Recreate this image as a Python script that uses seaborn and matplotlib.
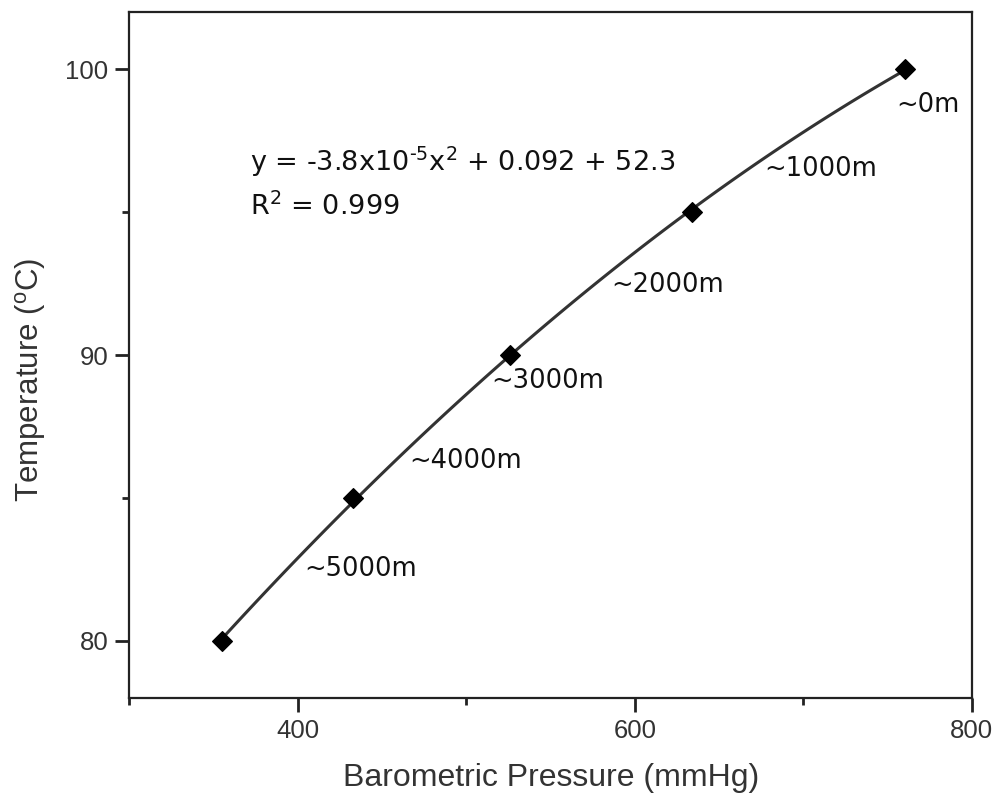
import matplotlib

matplotlib.use("Agg")
import matplotlib.pyplot as plt
import numpy as np
import pandas as pd
import seaborn as sns
from matplotlib.ticker import MultipleLocator

# data
pressure = [355, 433, 526, 634, 760]          # mmHg
temperature = [80, 85, 90, 95, 100]           # deg C
altitude = ["~5000m", "~4000m", "~3000m", "~2000m", "~1000m", "~0m"]
# label anchors (data coords) for the altitude annotations
label_x = [404, 466, 515, 586, 677, 755]
label_y = [82.5, 86.3, 89.1, 92.45, 96.5, 98.75]
equation = r"y = -3.8x10$^{\text{-5}}$x$^{2}$ + 0.092 + 52.3"
r_squared = "R$^{2}$ = 0.999"

sns.set_theme(style="ticks")
plt.rcParams["font.family"] = ["Liberation Sans", "DejaVu Sans"]
plt.rcParams["mathtext.default"] = "regular"

df = pd.DataFrame({"pressure": pressure, "temperature": temperature})

fig = plt.figure(figsize=(10.03, 8.0), dpi=100)
ax = fig.add_axes([0.129, 0.1275, 0.84, 0.8575])

sns.regplot(
    data=df, x="pressure", y="temperature", order=2, ci=None, ax=ax,
    marker="D",
    scatter_kws={"s": 100, "color": "black", "alpha": 1, "zorder": 3},
    line_kws={"color": "#333333", "lw": 2.2, "zorder": 2},
)

wide = ["DejaVu Sans"]
for txt, x, y in zip(altitude, label_x, label_y):
    ax.text(x, y, txt, fontsize=18.5, ha="left", va="center", color="#111111",
            family=wide)

ax.text(371.5, 96.76, equation, fontsize=19.5, ha="left", va="center",
        color="#111111", family=wide)
ax.text(371.5, 95.18, r_squared, fontsize=19.5, ha="left", va="center",
        color="#111111", family=wide)

ax.set_xlim(300, 800)
ax.set_ylim(78, 102)
ax.xaxis.set_major_locator(MultipleLocator(200))
ax.xaxis.set_minor_locator(MultipleLocator(100))
ax.yaxis.set_major_locator(MultipleLocator(10))
ax.yaxis.set_minor_locator(MultipleLocator(5))
ax.tick_params(which="major", direction="out", length=10, width=2, labelsize=18.5,
               pad=5, colors="#222222", labelcolor="#333333")
ax.tick_params(which="minor", direction="out", length=5, width=2, colors="#222222")

for sp in ax.spines.values():
    sp.set_linewidth(1.6)
    sp.set_color("#222222")

ax.set_xlabel("Barometric Pressure (mmHg)", fontsize=23, color="#333333")
ax.set_ylabel("Temperature ($^{o}$C)", fontsize=22.5, color="#333333")
ax.xaxis.set_label_coords(0.5, -0.095)
ax.yaxis.set_label_coords(-0.097, 0.4636)

fig.savefig("out.png", dpi=100)
